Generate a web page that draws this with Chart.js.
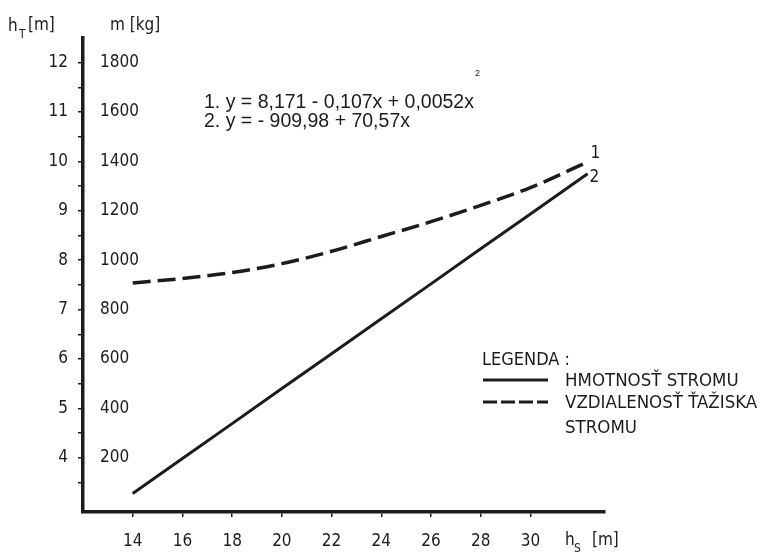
<!DOCTYPE html>
<html>
<head>
<meta charset="utf-8">
<script src="https://cdn.jsdelivr.net/npm/chart.js@4.4.1/dist/chart.umd.min.js"></script>
<style>
  html, body { margin: 0; padding: 0; background: #fff; }
  #wrap { width: 770px; height: 553px; }
</style>
</head>
<body>
<div id="wrap"><canvas id="chart" width="770" height="553"></canvas></div>
<script>
// hS [m] - x values
const hsValues = [14, 16, 18, 20, 22, 24, 26, 28, 30, 32.3];
// 2: hmotnost stromu, m [kg]
const massValues = [55, 197, 338, 480, 621, 763, 904, 1046, 1187, 1350];
// 1: vzdialenost taziska, hT [m]
const heightValues = [7.54, 7.63, 7.75, 7.93, 8.18, 8.48, 8.78, 9.11, 9.47, 9.99];

const xTicks = [14, 16, 18, 20, 22, 24, 26, 28, 30];
const hTicks = [4, 5, 6, 7, 8, 9, 10, 11, 12];
const massTicks = [100, 200, 300, 400, 500, 600, 700, 800, 900, 1000, 1100, 1200, 1300, 1400, 1500, 1600, 1700, 1800];

const seriesNames = ["HMOTNOSŤ STROMU", "VZDIALENOSŤ ŤAŽISKA", "STROMU"];
const equations = ["1. y = 8,171 - 0,107x + 0,0052x", "2. y = - 909,98 + 70,57x"];

const ink = "#1c1c1c";
const tickFont = { family: "'DejaVu Sans Condensed', 'DejaVu Sans', sans-serif", size: 17 };
const narrow = "'Liberation Sans Narrow', 'DejaVu Sans Condensed', sans-serif";

const toPoints = (xs, ys) => xs.map((x, i) => ({ x: x, y: ys[i] }));

// texty okolo grafu (nadpisy osi, rovnice, legenda)
const notes = {
  id: "notes",
  afterDraw(chart) {
    const ctx = chart.ctx;
    ctx.save();
    ctx.fillStyle = ink;
    ctx.strokeStyle = ink;
    ctx.textBaseline = "alphabetic";
    ctx.textAlign = "left";

    // axis headers
    ctx.font = "17px 'DejaVu Sans Condensed', sans-serif";
    ctx.fillText("h", 8, 31);
    ctx.font = "12px 'DejaVu Sans Condensed', sans-serif";
    ctx.fillText("T", 19, 38);
    ctx.font = "17px 'DejaVu Sans Condensed', sans-serif";
    ctx.fillText("[m]", 28, 30);
    ctx.fillText("m [kg]", 110, 30);

    // x axis title
    ctx.fillText("h", 565, 545);
    ctx.font = "12px 'DejaVu Sans Condensed', sans-serif";
    ctx.fillText("S", 574, 552);
    ctx.font = "17px 'DejaVu Sans Condensed', sans-serif";
    ctx.fillText("[m]", 592, 545);

    // equations
    ctx.font = "19.5px 'Liberation Sans', Arial, sans-serif";
    ctx.fillText(equations[0], 204, 108);
    const w0 = ctx.measureText(equations[0]).width;
    ctx.fillText(equations[1], 204, 127);
    ctx.font = "9px 'Liberation Sans', Arial, sans-serif";
    ctx.fillText("2", 204 + w0 + 1, 76);

    // curve numbers next to line ends
    const metaDash = chart.getDatasetMeta(1);
    const metaSolid = chart.getDatasetMeta(0);
    const pd = metaDash.data[metaDash.data.length - 1];
    const ps = metaSolid.data[metaSolid.data.length - 1];
    ctx.font = "17px 'DejaVu Sans Condensed', sans-serif";
    ctx.textBaseline = "middle";
    ctx.fillText("1", pd.x + 3, pd.y - 8);
    ctx.fillText("2", ps.x + 2, ps.y + 4);

    // legenda
    ctx.font = "18px " + narrow;
    ctx.fillText("LEGENDA :", 482, 360);
    const dsSolid = chart.data.datasets[0];
    ctx.lineWidth = 3;
    ctx.setLineDash(dsSolid.borderDash || []);
    ctx.beginPath(); ctx.moveTo(483, 380); ctx.lineTo(548, 380); ctx.stroke();
    ctx.setLineDash([14, 4]);
    ctx.beginPath(); ctx.moveTo(483, 402); ctx.lineTo(548, 402); ctx.stroke();
    ctx.setLineDash([]);
    ctx.font = "18.5px " + narrow;
    ctx.fillText(seriesNames[0], 565, 381);
    ctx.fillText(seriesNames[1], 565, 403);
    ctx.fillText(seriesNames[2], 565, 428);
    ctx.restore();
  }
};

new Chart(document.getElementById("chart"), {
  type: "line",
  data: {
    datasets: [
      {
        label: "m",
        data: toPoints(hsValues, massValues),
        yAxisID: "yM",
        borderColor: ink,
        borderWidth: 3,
        pointRadius: 0,
        fill: false
      },
      {
        label: "hT",
        data: toPoints(hsValues, heightValues),
        yAxisID: "yH",
        borderColor: ink,
        borderWidth: 3.5,
        borderDash: [18, 7],
        cubicInterpolationMode: "monotone",
        pointRadius: 0,
        fill: false
      }
    ]
  },
  options: {
    responsive: false,
    devicePixelRatio: 1,
    animation: false,
    layout: { padding: { left: 0, right: 165, top: 38, bottom: 0 } },
    plugins: { legend: { display: false }, tooltip: { enabled: false } },
    scales: {
      x: {
        type: "linear",
        min: 12,
        max: 33,
        afterBuildTicks: s => { s.ticks = xTicks.map(v => ({ value: v })); },
        afterFit: s => { s.height = 41; },
        ticks: { color: ink, font: tickFont, padding: 14, maxRotation: 0 },
        grid: { drawOnChartArea: false, drawTicks: true, tickLength: 5, color: ink, lineWidth: 1.5 },
        border: { color: ink, width: 3.5 }
      },
      yH: {
        type: "linear",
        position: "left",
        weight: 1,
        min: 2.9,
        max: 12.5,
        afterBuildTicks: s => { s.ticks = hTicks.map(v => ({ value: v })); },
        afterFit: s => { s.width = 83; },
        ticks: { color: ink, font: tickFont, padding: 15 },
        grid: { display: false, drawTicks: false },
        border: { display: false }
      },
      yM: {
        type: "linear",
        position: "left",
        weight: 0,
        min: -20,
        max: 1900,
        afterBuildTicks: s => { s.ticks = massTicks.map(v => ({ value: v })); },
        afterFit: s => { s.width = 0; },
        ticks: {
          color: ink,
          font: tickFont,
          mirror: true,
          padding: 17,
          callback: v => (v % 200 === 0 ? v : "")
        },
        grid: { drawOnChartArea: false, drawTicks: true, tickLength: 5, color: ink, lineWidth: 1.5 },
        border: { color: ink, width: 3.5 }
      }
    }
  },
  plugins: [notes]
});
</script>
</body>
</html>
